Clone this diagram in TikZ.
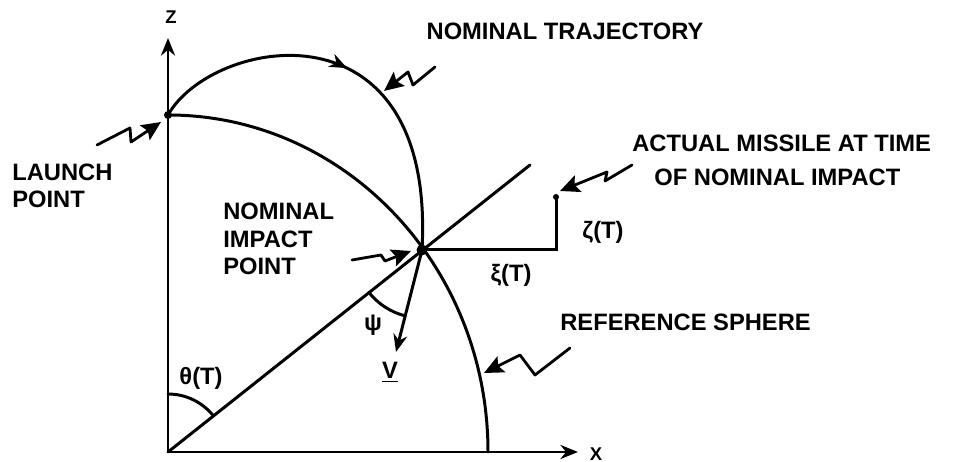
\documentclass[tikz,border=0pt]{standalone}
\usepackage{fontspec}
\setmainfont{Liberation Sans}
\usetikzlibrary{arrows.meta, positioning, decorations.markings}

\begin{document}
\begin{tikzpicture}[
    x=0.02cm, y=0.02cm,
    line/.style={line width=1.7pt, line cap=round},
    axis/.style={line width=1.7pt, -{Stealth[length=10pt, width=8pt]}},
    zig/.style ={line width=1.6pt, line join=round, line cap=round,
                 -{Stealth[length=11pt, width=10pt, inset=2pt]}},
    lbl/.style ={font=\bfseries\fontsize{13.5}{15.5}\selectfont, inner sep=0pt, align=left},
    small/.style={font=\bfseries\fontsize{10.5}{12}\selectfont, inner sep=0pt},
    flow/.style={postaction={decorate}, decoration={markings,
                 mark=at position 0.49 with {\arrow{Stealth[length=10pt, width=8pt]}}}},
]
  \useasboundingbox (0,0) rectangle (970,462);

  %% ---- fixed points (pixel grid, y up) ----
  \coordinate (O)      at (168, 10);
  \coordinate (L)      at (168,347);
  \coordinate (I)      at (422,212);
  \coordinate (ztip)   at (168,424);
  \coordinate (xtip)   at (578, 10);
  \coordinate (far)    at (530,297);
  \coordinate (corner) at (556,212);
  \coordinate (M)      at (556,265);
  \coordinate (vtip)   at (396,110);

  %% ---- axes ----
  \draw[axis] (O) -- (ztip);
  \draw[axis] (O) -- (xtip);
  \node[small] (zlbl) at (171,445) {Z};
  \node[small] (xlbl) at (596, 8)  {X};

  %% ---- reference sphere and nominal trajectory ----
  \draw[line] (L) arc[start angle=90, end angle=0, x radius=320, y radius=337];
  \draw[line, flow] (L) .. controls (212,425) and (436,466) .. (I);

  %% ---- line of sight through impact point, deviations ----
  \draw[line] (O) -- (far);
  \draw[line] (I) -- (corner) -- (M);
  \draw[line, -{Stealth[length=10pt, width=8pt]}] (I) -- (vtip);

  %% ---- angles ----
  \draw[line] (O) ++(90:58) arc[start angle=90, end angle=38.5, radius=58];
  \draw[line] (I) ++(218.5:68) arc[start angle=218.5, end angle=255.5, radius=68];

  %% ---- points ----
  \fill (L) circle (4);
  \fill (I) circle (5.5);
  \fill (M) circle (3);

  %% ---- labels ----
  \node[lbl] (trajlbl)   at (565,431) {NOMINAL TRAJECTORY};
  \node[lbl, anchor=west] (launchlbl) at (12,276) {LAUNCH\\POINT};
  \node[lbl, anchor=west] (implbl)    at (223,223) {NOMINAL\\IMPACT\\POINT};
  \node[lbl, anchor=west] (act1)      at (632,319) {ACTUAL MISSILE AT TIME};
  \node[lbl, anchor=west] (act2)      at (654,285) {OF NOMINAL IMPACT};
  \node[lbl, anchor=west] (reflbl)    at (560,140) {REFERENCE SPHERE};
  \node[lbl] (xilbl)    at (511,187) {ξ(T)};
  \node[lbl] (zetalbl)  at (603,230) {ζ(T)};
  \node[lbl] (thetalbl) at (201, 84) {θ(T)};
  \node[lbl] (psilbl)   at (373,137) {ψ};
  \node[lbl] (vlbl)     at (390, 90) {\underline{V}};

  %% ---- pointer arrows ----
  \draw[zig] (435,395) -- (413,377) -- (408,390) -- (384,371);
  \draw[zig] (97,317) -- (130,334) -- (131,320) -- (161,340);
  \draw[zig] (352,202) -- (381,207) -- (385,201) -- (411,211);
  \draw[zig] (632,297) -- (605,281) -- (607,290) -- (560,271);
  \draw[zig] (570,114) -- (535,87) -- (520,107) -- (484,89);

\end{tikzpicture}
\end{document}
